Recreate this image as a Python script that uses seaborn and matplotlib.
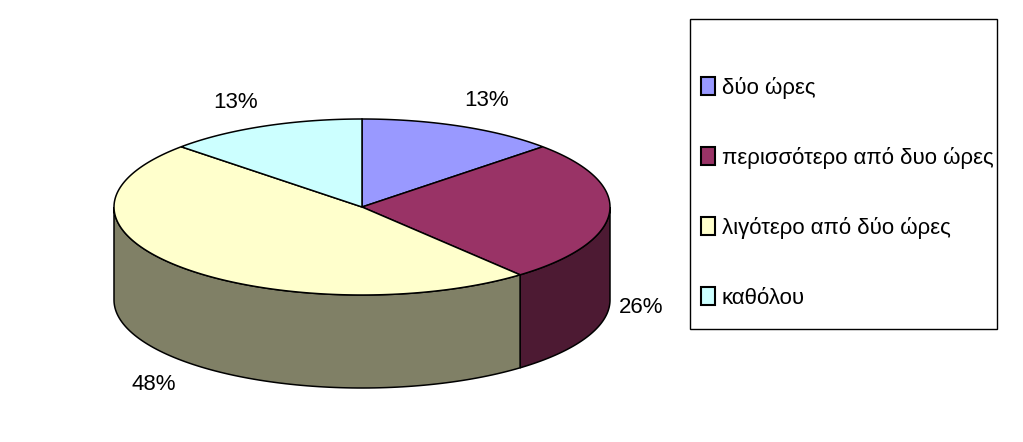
import numpy as np
import seaborn as sns
import matplotlib.pyplot as plt
from matplotlib.patches import Polygon, Patch, Rectangle

labels = ['δύο ώρες', 'περισσότερο από δυο ώρες', 'λιγότερο από δύο ώρες', 'καθόλου']
values = [13, 26, 48, 13]
top_colors = ['#9999FF', '#993366', '#FFFFCC', '#CCFFFF']
side_colors = ['#4D4D80', '#4D1A33', '#808066', '#668080']

CX, CY = 362, 207
RX, RY = 248, 88
DEPTH = 93
LABEL_OFFSETS = [(26, -26), (32, 95), (-27, 117), (-28, -24)]

sns.set_theme(style='white')
plt.rcParams['font.family'] = ['Liberation Sans', 'DejaVu Sans']


def ellipse(theta):
    # theta in degrees, clockwise from the top
    t = np.radians(theta)
    return CX + RX * np.sin(t), CY - RY * np.cos(t)


fig = plt.figure(figsize=(10.23, 4.42), dpi=100)
ax = fig.add_axes([0, 0, 1, 1])
ax.set_xlim(0, 1023)
ax.set_ylim(442, 0)
ax.axis('off')

angles = np.cumsum([0] + values) / sum(values) * 360

# sides first, only the front half of the rim shows
for i in range(len(values)):
    a = max(angles[i], 90)
    b = min(angles[i + 1], 270)
    if a >= b:
        continue
    th = np.linspace(a, b, 100)
    x, y = ellipse(th)
    pts = np.r_[np.c_[x, y], np.c_[x[::-1], y[::-1] + DEPTH]]
    ax.add_patch(Polygon(pts, closed=True, fc=side_colors[i], ec='black', lw=1.1))

for i in range(len(values)):
    th = np.linspace(angles[i], angles[i + 1], 150)
    x, y = ellipse(th)
    pts = np.r_[[[CX, CY]], np.c_[x, y]]
    ax.add_patch(Polygon(pts, closed=True, fc=top_colors[i], ec='black', lw=1.1))

    mx, my = ellipse((angles[i] + angles[i + 1]) / 2)
    dx, dy = LABEL_OFFSETS[i]
    ax.text(mx + dx, my + dy, f'{values[i]}%', ha='center', va='center',
            fontsize=16, color='black')

# legend box is drawn apart, its padding is not even on both axes
ax.add_patch(Rectangle((690, 19), 307, 310, fc='white', ec='black', lw=1))
handles = [Patch(fc=c, ec='black', lw=1.5) for c in top_colors]
leg = ax.legend(handles, labels, loc='upper left', bbox_to_anchor=(701, 77),
                bbox_transform=ax.transData, fontsize=16, frameon=False,
                handlelength=0.62, handleheight=0.85, handletextpad=0.32,
                labelspacing=2.16, borderpad=0, borderaxespad=0, labelcolor='black')

fig.savefig('out.png', dpi=100)
